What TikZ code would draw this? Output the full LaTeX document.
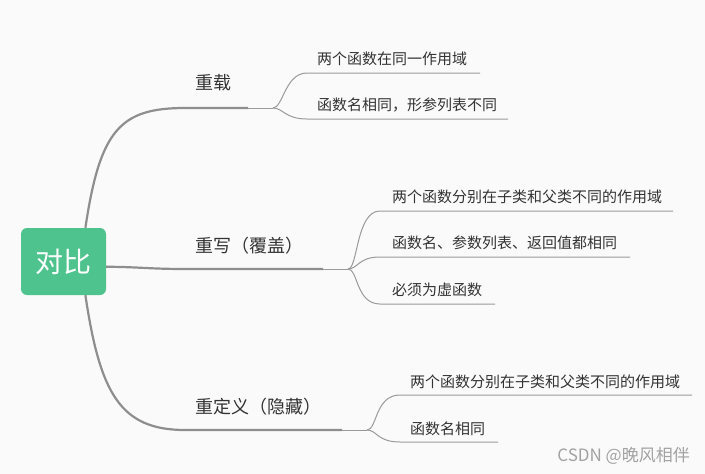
\documentclass[tikz,border=0pt]{standalone}
\usepackage{fontspec}
\setmainfont{Noto Sans CJK SC}
\definecolor{bg}{HTML}{FAFAFA}
\definecolor{rootgreen}{HTML}{4FC38E}
\definecolor{thickgray}{HTML}{8E8E8E}
\definecolor{thingray}{HTML}{9A9A9A}
\definecolor{txt}{HTML}{333333}
\definecolor{wmgray}{HTML}{A2A2A2}
\begin{document}
\begin{tikzpicture}[x=1pt,y=-1pt,
  branch/.style={draw=thickgray, line width=2.2pt},
  twig/.style={draw=thingray, line width=1pt},
  lab/.style={anchor=west, inner sep=0pt, text=txt, font=\fontsize{18}{21}\selectfont},
  leaf/.style={anchor=west, inner sep=0pt, text=txt, font=\fontsize{15}{18}\selectfont},
  rootbox/.style={fill=rootgreen, rounded corners=6pt, minimum width=85pt, minimum height=67pt, inner sep=0pt, text=white, font=\fontsize{28}{32}\selectfont}]
\fill[bg] (0,0) rectangle (705,474);
\useasboundingbox (0,0) rectangle (705,474);

% root
\node[rootbox] (root) at (63.5,261.5) {对比};

% labels
\node[lab] (l1) at (195,83) {重载};
\node[lab] (l2) at (195,246) {重写（覆盖）};
\node[lab] (l3) at (195,407) {重定义（隐藏）};

% junction coordinates
\coordinate (e1) at (248,108); \coordinate (f1) at (273,108);
\coordinate (e2) at (323,269); \coordinate (f2) at (348,269);
\coordinate (e3) at (342,430); \coordinate (f3) at (367,430);

% child line coordinates
\coordinate (a11) at (307,73);  \coordinate (b11) at (480,73);
\coordinate (a12) at (307,119); \coordinate (b12) at (508,119);
\coordinate (a21) at (380,211); \coordinate (b21) at (673,211);
\coordinate (a22) at (380,257); \coordinate (b22) at (630,257);
\coordinate (a23) at (380,304); \coordinate (b23) at (495,304);
\coordinate (a31) at (400,395); \coordinate (b31) at (692,395);
\coordinate (a32) at (400,442); \coordinate (b32) at (498,442);

% leaf texts
\node[leaf] (t11) at (317,59) {两个函数在同一作用域};
\node[leaf] (t12) at (317,105) {函数名相同，形参列表不同};
\node[leaf] (t21) at (392,197) {两个函数分别在子类和父类不同的作用域};
\node[leaf] (t22) at (392,243) {函数名、参数列表、返回值都相同};
\node[leaf] (t23) at (392,290) {必须为虚函数};
\node[leaf] (t31) at (410,382) {两个函数分别在子类和父类不同的作用域};
\node[leaf] (t32) at (410,429) {函数名相同};

% main branches
\draw[branch] (root.57) .. controls (100,130) and (120,108) .. (185,108) -- (e1);
\draw[branch] (root.-7) .. controls (140,267) and (150,269) .. (185,269) -- (e2);
\draw[branch] (root.-57) .. controls (100,393) and (120,430) .. (185,430) -- (e3);

% twigs
\draw[twig] (e1) -- (f1);
\draw[twig] (f1) .. controls (283,108) and (285,73) .. (a11) -- (b11);
\draw[twig] (f1) .. controls (283,108) and (285,119) .. (a12) -- (b12);
\draw[twig] (e2) -- (f2);
\draw[twig] (f2) .. controls (358,269) and (356,211) .. (a21) -- (b21);
\draw[twig] (f2) .. controls (358,269) and (358,257) .. (a22) -- (b22);
\draw[twig] (f2) .. controls (358,269) and (356,304) .. (a23) -- (b23);
\draw[twig] (e3) -- (f3);
\draw[twig] (f3) .. controls (377,430) and (375,395) .. (a31) -- (b31);
\draw[twig] (f3) .. controls (377,430) and (377,442) .. (a32) -- (b32);

% watermark
\node[anchor=east, inner sep=0pt, text=wmgray, font=\fontsize{17}{20}\selectfont] (wm) at (690,456) {CSDN @晚风相伴};
\end{tikzpicture}
\end{document}
